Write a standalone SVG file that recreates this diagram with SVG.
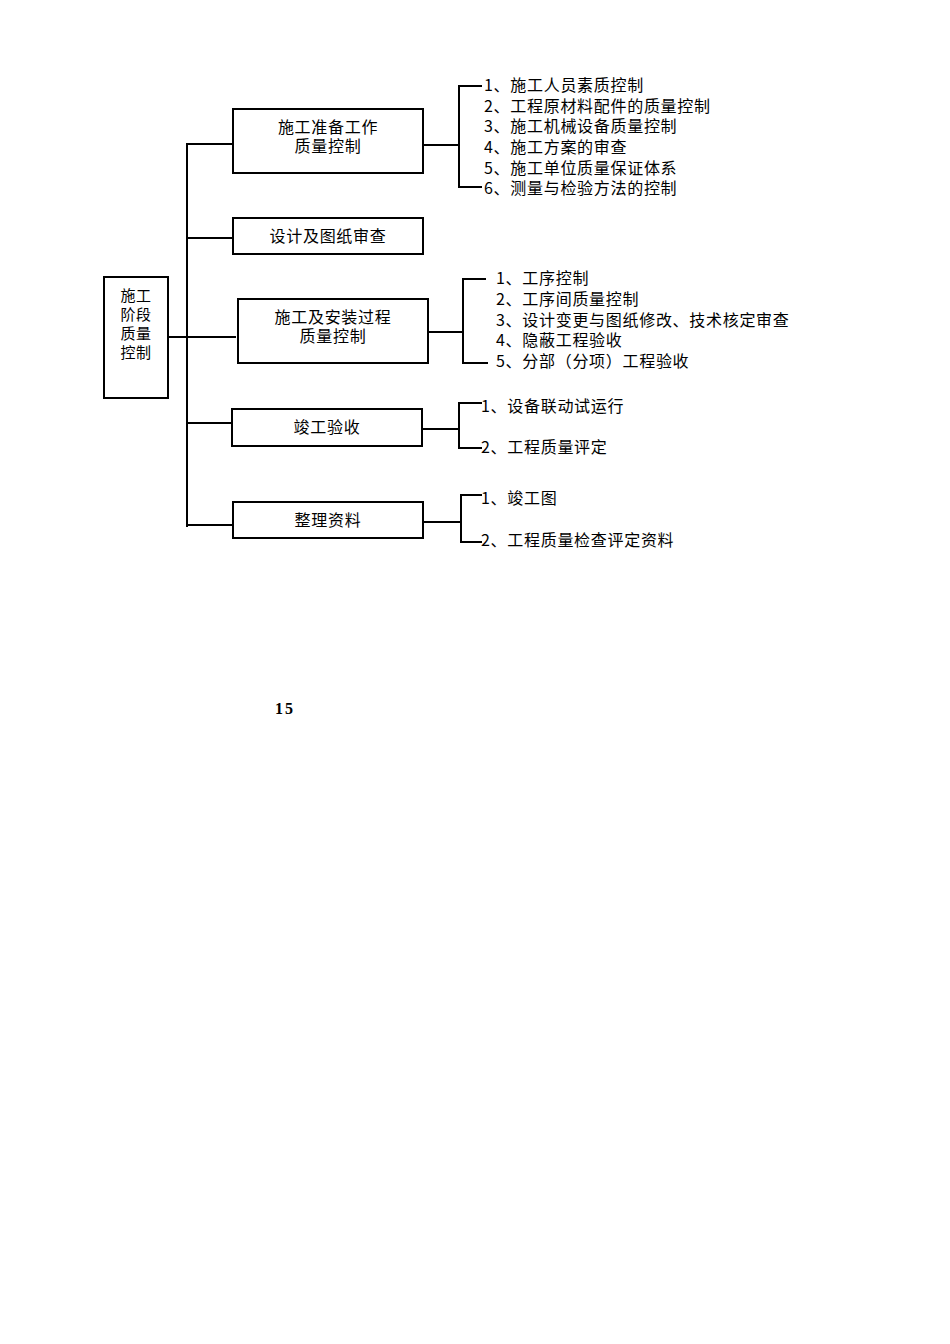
<svg xmlns="http://www.w3.org/2000/svg" width="950" height="1344" viewBox="0 0 950 1344">
<style>
rect{fill:#fff;stroke:#000;stroke-width:2}
.c line{stroke:#000;stroke-width:2}
text{font-family:"Noto Sans CJK SC","Liberation Serif",serif;font-size:16px;fill:#000;letter-spacing:0.7px}
.m{text-anchor:middle}
.r{font-size:15px;letter-spacing:0.5px}
</style>
<rect x="0" y="0" width="950" height="1344" style="stroke:none"/>
<g class="c">
<line x1="168" y1="337" x2="236" y2="337"/>
<line x1="187" y1="143" x2="187" y2="527"/>
<line x1="186" y1="144" x2="233" y2="144"/>
<line x1="186" y1="238" x2="233" y2="238"/>
<line x1="186" y1="423" x2="232" y2="423"/>
<line x1="186" y1="525" x2="233" y2="525"/>
<line x1="423" y1="145" x2="459" y2="145"/>
<line x1="459" y1="85" x2="459" y2="188"/>
<line x1="458" y1="86" x2="482" y2="86"/>
<line x1="458" y1="187" x2="482" y2="187"/>
<line x1="428" y1="332" x2="463" y2="332"/>
<line x1="463" y1="278" x2="463" y2="364"/>
<line x1="462" y1="279" x2="486" y2="279"/>
<line x1="462" y1="363" x2="488" y2="363"/>
<line x1="422" y1="429" x2="459" y2="429"/>
<line x1="459" y1="402" x2="459" y2="449"/>
<line x1="458" y1="403" x2="482" y2="403"/>
<line x1="458" y1="448" x2="482" y2="448"/>
<line x1="424" y1="522" x2="461" y2="522"/>
<line x1="461" y1="494" x2="461" y2="543"/>
<line x1="460" y1="495" x2="482" y2="495"/>
<line x1="460" y1="542" x2="482" y2="542"/>
</g>
<g id="root"><rect x="104" y="277" width="64" height="121"/>
<text class="m r" x="136" y="301">施工</text><text class="m r" x="136" y="320">阶段</text><text class="m r" x="136" y="339">质量</text><text class="m r" x="136" y="358">控制</text></g>
<g id="n1"><rect x="233" y="109" width="190" height="64"/>
<text class="m" x="328" y="133">施工准备工作</text><text class="m" x="328" y="152">质量控制</text></g>
<g id="n2"><rect x="233" y="218" width="190" height="36"/><text class="m" x="328" y="242">设计及图纸审查</text></g>
<g id="n3"><rect x="238" y="299" width="190" height="64"/>
<text class="m" x="333" y="323">施工及安装过程</text><text class="m" x="333" y="342">质量控制</text></g>
<g id="n4"><rect x="232" y="409" width="190" height="37"/><text class="m" x="327" y="433">竣工验收</text></g>
<g id="n5"><rect x="233" y="502" width="190" height="36"/><text class="m" x="328" y="526">整理资料</text></g>
<g id="l1">
<text x="484" y="91">1、施工人员素质控制</text>
<text x="484" y="112">2、工程原材料配件的质量控制</text>
<text x="484" y="132">3、施工机械设备质量控制</text>
<text x="484" y="153">4、施工方案的审查</text>
<text x="484" y="174">5、施工单位质量保证体系</text>
<text x="484" y="194">6、测量与检验方法的控制</text>
</g>
<g id="l3">
<text x="496" y="284">1、工序控制</text>
<text x="496" y="305">2、工序间质量控制</text>
<text x="496" y="326">3、设计变更与图纸修改、技术核定审查</text>
<text x="496" y="346">4、隐蔽工程验收</text>
<text x="496" y="367">5、分部（分项）工程验收</text>
</g>
<g id="l4"><text x="481" y="412">1、设备联动试运行</text><text x="481" y="453">2、工程质量评定</text></g>
<g id="l5"><text x="481" y="504">1、竣工图</text><text x="481" y="546">2、工程质量检查评定资料</text></g>
<text x="275" y="714" style="font-family:'Liberation Serif',serif;font-weight:bold;letter-spacing:2px">15</text>
</svg>
